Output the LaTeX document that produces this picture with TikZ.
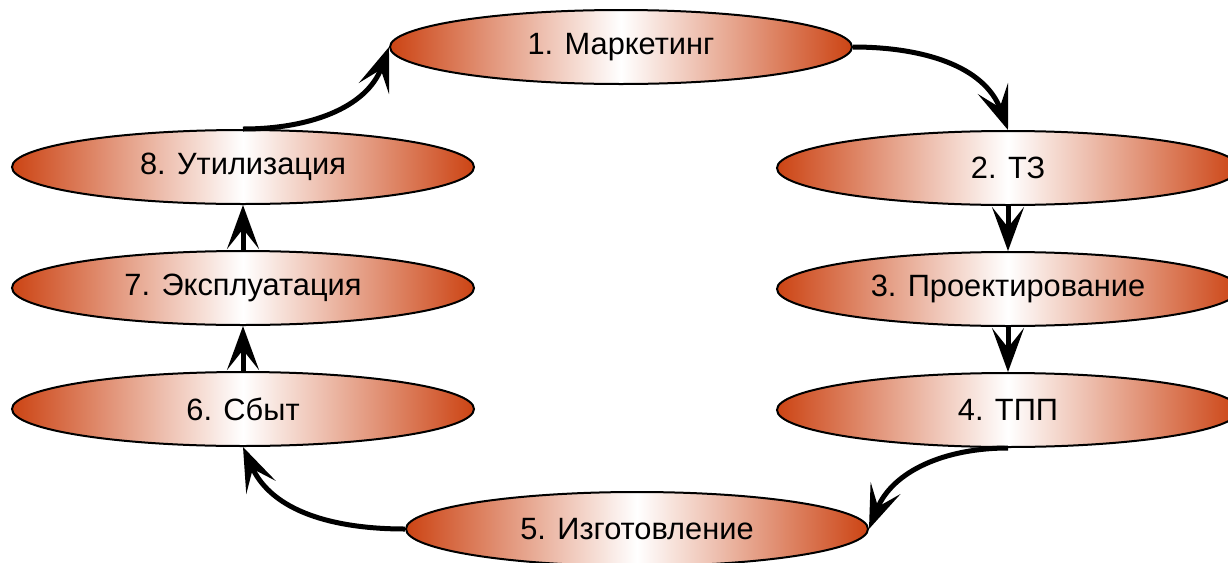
\documentclass[tikz,border=0pt]{standalone}
\usepackage{fontspec}
\setmainfont{Liberation Sans}
\usepackage{xcolor}
\definecolor{Rust}{HTML}{CC4414}
\usetikzlibrary{arrows.meta,positioning,shapes.geometric}

\begin{document}
\begin{tikzpicture}[x=0.5pt,y=-0.5pt,
  stage/.style={ellipse,draw=black,line width=1pt,inner sep=0pt,minimum width=231pt,minimum height=37pt,
    left color=Rust,right color=Rust,middle color=white,font=\fontsize{15.4}{18}\selectfont},
  arrow/.style={-{Stealth[length=22pt,width=16pt,inset=10pt]},draw=black,line width=2.5pt}
]
  \useasboundingbox (0,0) rectangle (1228,563);

  \node[stage] (a) at (621,47) {1. Маркетинг};
  \node[stage] (b) at (1008,168) {2. ТЗ};
  \node[stage,below=22.5pt of b] (c) {3. Проектирование};
  \node[stage,below=22.5pt of c] (d) {4. ТПП};
  \node[stage] (e) at (637,529) {5. Изготовление};
  \node[stage] (f) at (243,409) {6. Сбыт};
  \node[stage,above=22.5pt of f] (g) {7. Эксплуатация};
  \node[stage,above=22.5pt of g] (h) {8. Утилизация};

  \draw[arrow] (a.east) to[out=0,in=110] (b.north);
  \draw[arrow] (b.south) -- (c.north);
  \draw[arrow] (c.south) -- (d.north);
  \draw[arrow] (d.south) to[out=180,in=68] (e.east);
  \draw[arrow] (e.west) to[out=180,in=-66] (f.south);
  \draw[arrow] (f.north) -- (g.south);
  \draw[arrow] (g.north) -- (h.south);
  \draw[arrow] (h.north) to[out=0,in=-110] (a.west);
\end{tikzpicture}
\end{document}
